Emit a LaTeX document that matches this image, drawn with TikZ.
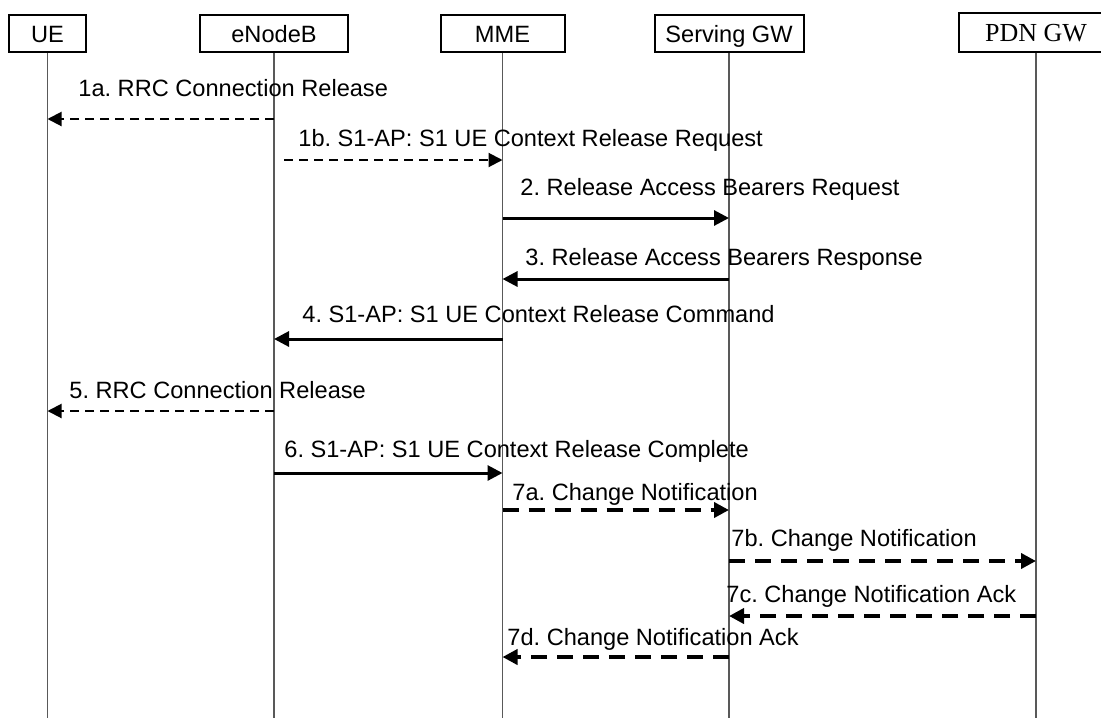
\documentclass[tikz,border=0pt]{standalone}
\usepackage{fontspec}
\setmainfont{Liberation Sans}
\newfontfamily\pdnfont{Liberation Serif}
\usetikzlibrary{arrows.meta,positioning}
\frenchspacing

\tikzset{
 head/.style={draw,line width=1pt,minimum height=18.5pt,inner sep=0pt,text height=8.5pt,text depth=0pt,font=\fontsize{11.8}{14}\selectfont},
 life/.style={black!65,line width=.75pt},
 lbl/.style={anchor=base west,inner sep=0pt,font=\fontsize{11.8}{14}\selectfont},
 sig/.style={line width=1.5pt,-{Triangle[length=7.5pt,width=7.5pt]}},
 rrc/.style={line width=1pt,dash pattern=on 4.5pt off 3pt,-{Triangle[length=7pt,width=7pt]}},
 chg/.style={line width=2pt,dash pattern=on 8pt off 5pt,-{Triangle[length=7.5pt,width=7.5pt]}}
}

\begin{document}
\begin{tikzpicture}[x=.5pt,y=-.5pt]
\useasboundingbox (0,0) rectangle (1101,718);
% heads
\node[head,minimum width=38.5pt] (ue) at (47.5,33.5) {UE};
\node[head,minimum width=74pt] (enb) at (274,33.5) {eNodeB};
\node[head,minimum width=62pt] (mme) at (502.5,33.5) {MME};
\node[head,minimum width=74.5pt] (sgw) at (729,33.5) {Serving GW};
\node[head,minimum width=77pt,minimum height=19.5pt,font=\pdnfont\fontsize{13}{15}\selectfont] (pgw) at (1036,32.5) {PDN GW};
\foreach \n in {ue,enb,mme,sgw,pgw}
 \draw[life] (\n.south) -- (\n.south |- 0,718);
% messages
\node[lbl] (m1a) at (78,96) {1a. RRC Connection Release};
\draw[rrc] (enb |- 0,119) -- (ue |- 0,119);
\node[lbl] (m1b) at (298,146) {1b. S1-AP: S1 UE Context Release Request};
\draw[rrc,shorten <=5pt] (enb |- 0,160) -- (mme |- 0,160);
\node[lbl] (m2) at (520,195) {2. Release Access Bearers Request};
\draw[sig] (mme |- 0,218) -- (sgw |- 0,218);
\node[lbl] (m3) at (525,265) {3. Release Access Bearers Response};
\draw[sig] (sgw |- 0,279) -- (mme |- 0,279);
\node[lbl] (m4) at (302,322) {4. S1-AP: S1 UE Context Release Command};
\draw[sig] (mme |- 0,339) -- (enb |- 0,339);
\node[lbl] (m5) at (69,398) {5. RRC Connection Release};
\draw[rrc] (enb |- 0,411) -- (ue |- 0,411);
\node[lbl] (m6) at (284,457) {6. S1-AP: S1 UE Context Release Complete};
\draw[sig] (enb |- 0,473) -- (mme |- 0,473);
\node[lbl] (m7a) at (512,500) {7a. Change Notification};
\draw[chg] (mme |- 0,510) -- (sgw |- 0,510);
\node[lbl] (m7b) at (731,546) {7b. Change Notification};
\draw[chg] (sgw |- 0,561) -- (pgw |- 0,561);
\node[lbl] (m7c) at (726,602) {7c. Change Notification Ack};
\draw[chg] (pgw |- 0,616) -- (sgw |- 0,616);
\node[lbl] (m7d) at (507,645) {7d. Change Notification Ack};
\draw[chg] (sgw |- 0,657) -- (mme |- 0,657);
\end{tikzpicture}
\end{document}
